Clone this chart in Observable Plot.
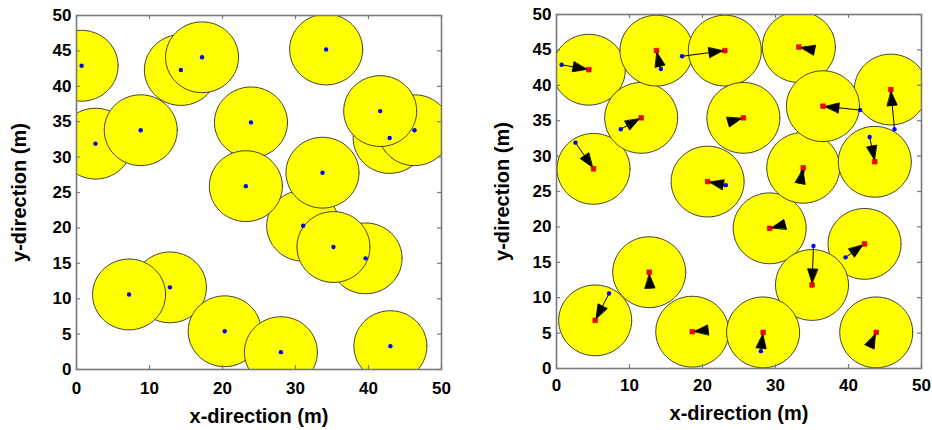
<!DOCTYPE html>
<html><head><meta charset="utf-8">
<script src="https://cdn.jsdelivr.net/npm/d3@7"></script>
<script src="https://cdn.jsdelivr.net/npm/@observablehq/plot@0.6"></script>
<style>
body{margin:0;background:#fff}
#wrap{display:flex;width:932px;height:430px;overflow:hidden}
</style>
</head><body><div id="wrap"></div>
<script>
// Initial sensor positions (blue dots, left panel)
const initialX = [0.7, 2.6, 8.8, 14.3, 17.2, 34.2, 23.9, 31.05, 39.6, 35.2, 23.2, 33.7, 42.9, 46.3, 41.6, 12.8, 7.2, 20.3, 28.0, 43.0];
const initialY = [42.9, 31.9, 33.8, 42.3, 44.1, 45.2, 34.9, 20.3, 15.7, 17.3, 25.9, 27.8, 32.7, 33.8, 36.5, 11.6, 10.6, 5.4, 2.45, 3.3];
// Final sensor positions (red squares, right panel)
const finalX = [4.43, 5.07, 11.6, 13.7, 23.06, 33.2, 25.6, 29.2, 42.2, 35.0, 20.7, 33.8, 43.6, 45.8, 36.5, 12.7, 5.3, 18.6, 28.3, 43.8];
const finalY = [42.2, 28.2, 35.4, 44.9, 44.9, 45.4, 35.4, 19.8, 17.6, 11.8, 26.4, 28.35, 29.2, 39.4, 37.05, 13.6, 6.8, 5.2, 5.1, 5.1];
const sensingRadius = 5;
const xTicks = [0, 10, 20, 30, 40, 50];
const yTicks = [0, 5, 10, 15, 20, 25, 30, 35, 40, 45, 50];
const xLabel = "x-direction (m)";
const yLabel = "y-direction (m)";

const W = 466, H = 430;
const FRAME = "#7a7a7a";

function circleRings(xs, ys) {
  const pts = [];
  xs.forEach((cx, i) => {
    const cy = ys[i];
    for (let k = 0; k <= 90; k++) {
      const t = (k / 90) * 2 * Math.PI;
      pts.push({id: i, x: cx + sensingRadius * Math.cos(t), y: cy + sensingRadius * Math.sin(t)});
    }
  });
  return pts;
}

const head = {
  draw(ctx, l) {
    const off = 2, h = 14, w = 5;
    ctx.moveTo(0, -l + off);
    ctx.lineTo(w, -l + off + h);
    ctx.lineTo(-w, -l + off + h);
    ctx.closePath();
  }
};

function panel(opts) {
  const {cx, cy, arrows, m, tickPad, xLabDy, yLabDx} = opts;
  const kx = (W - m.left - m.right) / 50;
  const ky = (H - m.top - m.bottom) / 50;
  const centers = cx.map((x, i) => ({x, y: cy[i]}));
  const marks = [
    Plot.line(circleRings(cx, cy), {x: "x", y: "y", z: "id", fill: "#ffff00", stroke: "#2a2a2a", strokeWidth: 0.9, clip: true})
  ];
  if (arrows) {
    const vecs = initialX.map((x1, i) => {
      const y1 = initialY[i], x2 = finalX[i], y2 = finalY[i];
      const ang = Math.atan2((x2 - x1) * kx, (y2 - y1) * ky) * 180 / Math.PI;
      return {x1, y1, x2, y2, ang};
    });
    marks.push(
      Plot.link(vecs, {x1: "x1", y1: "y1", x2: "x2", y2: "y2", stroke: "#000", strokeWidth: 1}),
      Plot.dot(initialX.map((x, i) => ({x, y: initialY[i]})), {x: "x", y: "y", r: 2.2, fill: "#0000ff", stroke: "none"}),
      Plot.vector(vecs, {x: "x2", y: "y2", rotate: "ang", length: 14, anchor: "end", shape: head, fill: "#000", stroke: "#000", strokeWidth: 0.8}),
      Plot.dot(centers, {x: "x", y: "y", r: 2.6, symbol: "square", fill: "#ff0000", stroke: "#b00000", strokeWidth: 0.6})
    );
  } else {
    marks.push(Plot.dot(centers, {x: "x", y: "y", r: 2.2, fill: "#0000ff", stroke: "none"}));
  }
  marks.push(
    Plot.ruleX(xTicks, {x: d => d, y1: 0, y2: 4 / ky, stroke: FRAME, strokeWidth: 1.2}),
    Plot.ruleX(xTicks, {x: d => d, y1: 50, y2: 50 - 4 / ky, stroke: FRAME, strokeWidth: 1.2}),
    Plot.ruleY(yTicks, {y: d => d, x1: 0, x2: 4 / kx, stroke: FRAME, strokeWidth: 1.2}),
    Plot.ruleY(yTicks, {y: d => d, x1: 50, x2: 50 - 4 / kx, stroke: FRAME, strokeWidth: 1.2}),
    Plot.frame({stroke: FRAME, strokeWidth: 1.6}),
    Plot.axisX({ticks: xTicks, tickSize: 0, tickPadding: tickPad, label: null, fontSize: 17, fontWeight: "bold"}),
    Plot.axisY({ticks: yTicks, tickSize: 0, tickPadding: 5, label: null, fontSize: 17, fontWeight: "bold"}),
    Plot.text([xLabel], {text: d => d, frameAnchor: "bottom", dy: xLabDy, textAnchor: "middle", lineAnchor: "middle", fontSize: 20, fontWeight: "bold"}),
    Plot.text([yLabel], {text: d => d, frameAnchor: "left", dx: yLabDx, rotate: -90, textAnchor: "middle", lineAnchor: "middle", fontSize: 20, fontWeight: "bold"})
  );
  return Plot.plot({
    width: W, height: H,
    marginLeft: m.left, marginRight: m.right, marginTop: m.top, marginBottom: m.bottom,
    x: {domain: [0, 50]},
    y: {domain: [0, 50]},
    style: {fontFamily: "'Liberation Sans', Arial, sans-serif", fontWeight: "bold", fontSize: "17px", color: "#000", background: "#fff", overflow: "visible"},
    marks
  });
}

const wrap = document.getElementById("wrap");
wrap.appendChild(panel({cx: initialX, cy: initialY, arrows: false, m: {left: 76, right: 25, top: 15, bottom: 61}, tickPad: 12, xLabDy: 47, yLabDx: -57}));
wrap.appendChild(panel({cx: finalX, cy: finalY, arrows: true, m: {left: 90, right: 11, top: 14, bottom: 62}, tickPad: 10, xLabDy: 45, yLabDx: -54}));
</script>
</body></html>
